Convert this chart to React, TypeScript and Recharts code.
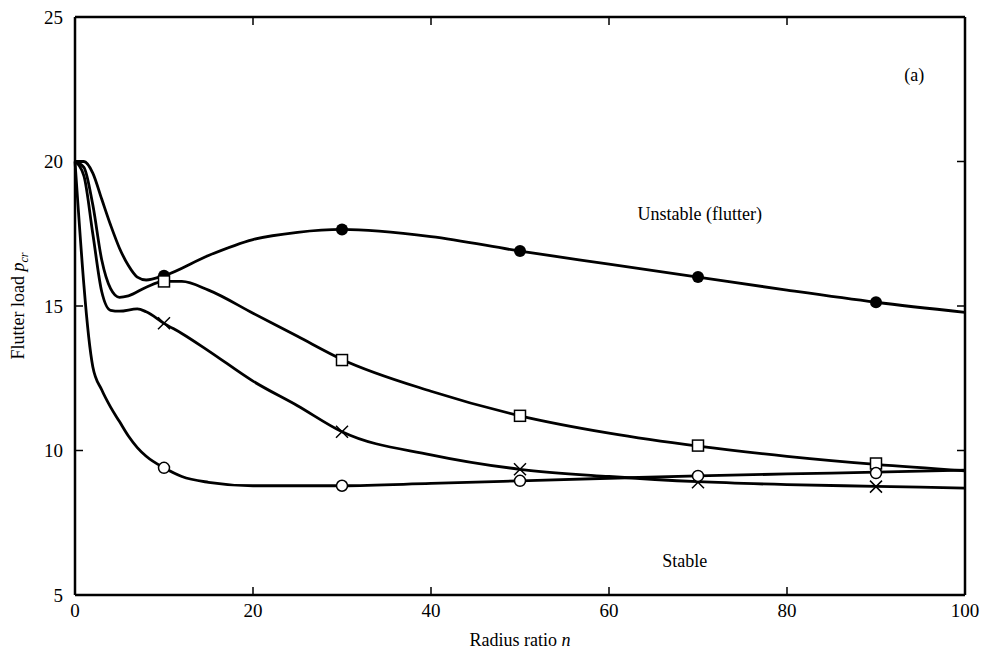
import React from 'react';
import {
  ComposedChart,
  Line,
  Scatter,
  XAxis,
  YAxis,
  ReferenceDot,
  ReferenceLine,
} from 'recharts';

// curves (n, p_cr)
const filledCurve = [
  [0, 20.0], [1, 20.0], [2, 19.6], [3, 18.7], [4, 17.8], [5, 17.0], [6, 16.4],
  [7, 16.0], [8, 15.9], [10, 16.05], [15, 16.75], [20, 17.3], [25, 17.55],
  [30, 17.65], [40, 17.4], [50, 16.9], [60, 16.45], [70, 16.0], [80, 15.55],
  [90, 15.13], [100, 14.78],
];
const squareCurve = [
  [0, 20.0], [1, 19.8], [2, 18.5], [3, 16.6], [4, 15.6], [5, 15.3], [6, 15.35],
  [8, 15.65], [10, 15.85], [12, 15.85], [15, 15.55], [20, 14.75], [25, 13.95],
  [30, 13.15], [40, 12.05], [50, 11.2], [60, 10.6], [70, 10.15], [80, 9.8],
  [90, 9.52], [100, 9.3],
];
const crossCurve = [
  [0, 20.0], [1, 19.5], [2, 17.5], [3, 15.5], [4, 14.85], [5, 14.82], [7, 14.9],
  [8, 14.8], [10, 14.4], [12, 14.05], [15, 13.45], [20, 12.4], [25, 11.55],
  [30, 10.65], [40, 9.85], [50, 9.35], [60, 9.1], [70, 8.92], [80, 8.82],
  [90, 8.76], [100, 8.7],
];
const openCurve = [
  [0, 20.0], [2, 12.9], [3, 12.1], [4, 11.5], [5, 11.0], [6, 10.5], [7, 10.1],
  [8, 9.8], [10, 9.4], [12, 9.1], [15, 8.9], [20, 8.78], [30, 8.78], [40, 8.86],
  [50, 8.95], [60, 9.04], [70, 9.12], [80, 9.19], [90, 9.25], [100, 9.32],
];

const markerN = [10, 30, 50, 70, 90];
const filledMarks = [16.05, 17.65, 16.9, 16.0, 15.13];
const squareMarks = [15.85, 13.13, 11.2, 10.17, 9.55];
const crossMarks = [14.4, 10.65, 9.35, 8.9, 8.75];
const openMarks = [9.4, 8.78, 8.95, 9.12, 9.22];

const xTicks = [0, 20, 40, 60, 80, 100];
const yTicks = [5, 10, 15, 20, 25];

const toRows = (pts: number[][]) => pts.map(([n, p]) => ({ n, p }));
const toMarks = (vals: number[]) => vals.map((p, i) => ({ n: markerN[i], p }));

const font = "'Liberation Serif', 'Times New Roman', serif";
const TX = 0.9; // inward tick length in x units (~8px)
const TY = 0.28; // inward tick length in y units (~8px)

const FilledDot = (props: any) => <circle cx={props.cx} cy={props.cy} r={6} fill="#000" />;
const OpenDot = (props: any) => (
  <circle cx={props.cx} cy={props.cy} r={5.5} fill="#fff" stroke="#000" strokeWidth={1.5} />
);
const SquareDot = (props: any) => (
  <rect x={props.cx - 5.5} y={props.cy - 5.5} width={11} height={11} fill="#fff" stroke="#000" strokeWidth={1.5} />
);
const CrossDot = (props: any) => (
  <path
    d={`M${props.cx - 6},${props.cy - 6}L${props.cx + 6},${props.cy + 6}M${props.cx - 6},${props.cy + 6}L${props.cx + 6},${props.cy - 6}`}
    stroke="#000"
    strokeWidth={1.5}
  />
);

const BottomTick = (props: any) => (
  <text x={props.x} y={props.y + 8} dy="0.75em" textAnchor="middle" fontFamily={font} fontSize={19} fill="#000">
    {props.payload.value}
  </text>
);
const LeftTick = (props: any) => (
  <text x={props.x - 12} y={props.y} dy="0.35em" textAnchor="end" fontFamily={font} fontSize={19} fill="#000">
    {props.payload.value}
  </text>
);

const axisLine = { stroke: '#000', strokeWidth: 2.5 };
const textLabel = { position: 'center' as const, fontFamily: font, fontSize: 18, fill: '#000' };

const curves = [filledCurve, squareCurve, crossCurve, openCurve];

export default function App() {
  const tickSegs: { x1: number; y1: number; x2: number; y2: number }[] = [];
  xTicks.forEach((t) => {
    tickSegs.push({ x1: t, y1: 5, x2: t, y2: 5 + TY });
    tickSegs.push({ x1: t, y1: 25, x2: t, y2: 25 - TY });
  });
  yTicks.forEach((t) => {
    tickSegs.push({ x1: 0, y1: t, x2: TX, y2: t });
    tickSegs.push({ x1: 100, y1: t, x2: 100 - TX, y2: t });
  });

  return (
    <ComposedChart
      width={983}
      height={651}
      margin={{ top: 9, right: 26, bottom: 0, left: 0 }}
      style={{ fontFamily: font }}
    >
      <XAxis
        xAxisId="b"
        type="number"
        dataKey="n"
        domain={[0, 100]}
        ticks={xTicks}
        height={64}
        tickSize={0}
        tickMargin={0}
        axisLine={axisLine}
        tickLine={false}
        tick={BottomTick}
        label={{
          content: () => (
            <text x={512} y={638} textAnchor="middle" fontFamily={font} fontSize={18} fill="#000">
              Radius ratio <tspan fontStyle="italic">n</tspan>
            </text>
          ),
        }}
      />
      <YAxis
        yAxisId="l"
        type="number"
        dataKey="p"
        domain={[5, 25]}
        ticks={yTicks}
        width={67}
        tickSize={0}
        tickMargin={0}
        axisLine={axisLine}
        tickLine={false}
        tick={LeftTick}
        label={{
          content: () => (
            <text
              x={16}
              y={298}
              transform="rotate(-90 16 298)"
              textAnchor="middle"
              fontFamily={font}
              fontSize={18}
              fill="#000"
            >
              Flutter load <tspan fontStyle="italic">p</tspan>
              <tspan fontStyle="italic" fontSize={12} dy={4}>cr</tspan>
            </text>
          ),
        }}
      />
      <ReferenceLine xAxisId="b" yAxisId="l" y={25} stroke="#000" strokeWidth={2.5} />
      <ReferenceLine xAxisId="b" yAxisId="l" x={100} stroke="#000" strokeWidth={2.5} />
      {tickSegs.map((s, i) => (
        <ReferenceLine
          key={`t${i}`}
          xAxisId="b"
          yAxisId="l"
          segment={[{ x: s.x1, y: s.y1 }, { x: s.x2, y: s.y2 }]}
          stroke="#000"
          strokeWidth={1.5}
        />
      ))}
      {curves.map((c, i) => (
        <Line
          key={i}
          xAxisId="b"
          yAxisId="l"
          data={toRows(c)}
          dataKey="p"
          type="monotone"
          stroke="#000"
          strokeWidth={2.8}
          dot={false}
          activeDot={false}
          isAnimationActive={false}
        />
      ))}
      <Scatter xAxisId="b" yAxisId="l" data={toMarks(filledMarks)} dataKey="p" shape={FilledDot} isAnimationActive={false} />
      <Scatter xAxisId="b" yAxisId="l" data={toMarks(squareMarks)} dataKey="p" shape={SquareDot} isAnimationActive={false} />
      <Scatter xAxisId="b" yAxisId="l" data={toMarks(crossMarks)} dataKey="p" shape={CrossDot} isAnimationActive={false} />
      <Scatter xAxisId="b" yAxisId="l" data={toMarks(openMarks)} dataKey="p" shape={OpenDot} isAnimationActive={false} />
      <ReferenceDot xAxisId="b" yAxisId="l" x={70.2} y={18.2} r={0} label={{ value: 'Unstable (flutter)', ...textLabel }} />
      <ReferenceDot xAxisId="b" yAxisId="l" x={68.5} y={6.2} r={0} label={{ value: 'Stable', ...textLabel }} />
      <ReferenceDot xAxisId="b" yAxisId="l" x={94.3} y={23.0} r={0} label={{ value: '(a)', ...textLabel }} />
    </ComposedChart>
  );
}
